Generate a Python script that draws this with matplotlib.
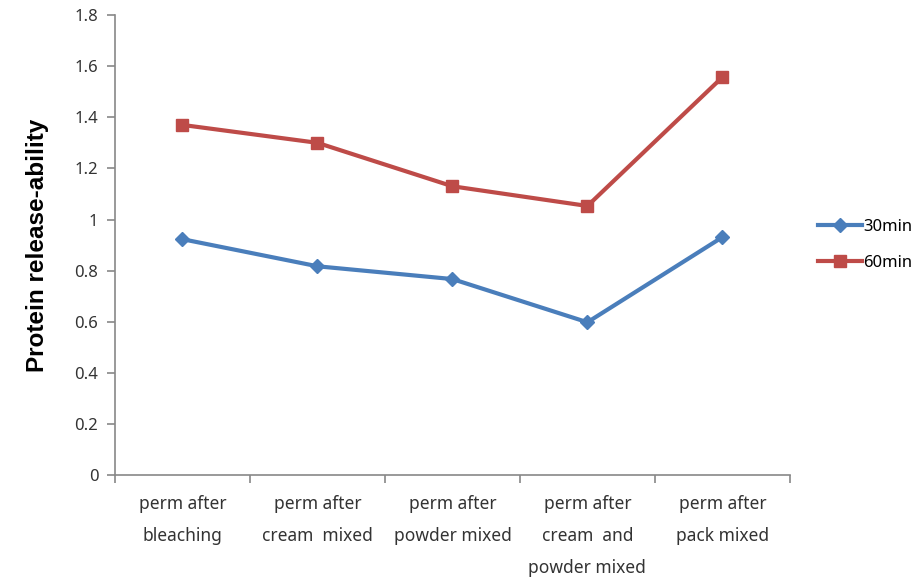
import numpy as np
import matplotlib.pyplot as plt

categories = ['perm after\nbleaching', 'perm after\ncream  mixed', 'perm after\npowder mixed',
              'perm after\ncream  and\npowder mixed', 'perm after\npack mixed']
vals_30 = [0.923, 0.817, 0.767, 0.598, 0.931]
vals_60 = [1.37, 1.30, 1.13, 1.053, 1.557]

plt.rcParams['font.family'] = ['Noto Sans', 'DejaVu Sans']

fig = plt.figure(figsize=(9.17, 5.78), dpi=100)
ax = fig.add_axes([0.1254, 0.178, 0.736, 0.796])

x = np.arange(len(categories))
ax.plot(x, vals_30, color='#4A7EBB', lw=3, marker='D', ms=7, label='30min')
ax.plot(x, vals_60, color='#BE4B48', lw=3, marker='s', ms=8, label='60min')

ax.set_xlim(-0.5, len(categories) - 0.5)
ax.set_ylim(0, 1.8)
ax.set_yticks(np.arange(0, 1.81, 0.2))
ax.set_yticklabels(['0', '0.2', '0.4', '0.6', '0.8', '1', '1.2', '1.4', '1.6', '1.8'])
ax.set_xticks(x)
ax.set_xticklabels(categories, fontsize=12.5, color='#333333', linespacing=2.0, va='top')
ax.set_xticks(np.arange(-0.5, len(categories), 1), minor=True)
ax.tick_params(axis='x', which='major', length=0, pad=14)
ax.tick_params(axis='x', which='minor', length=6, color='#888888', width=1.2)
ax.tick_params(axis='y', length=6, color='#888888', width=1.2, labelsize=12,
               labelcolor='#333333', pad=6)

for s in ['top', 'right']:
    ax.spines[s].set_visible(False)
for s in ['left', 'bottom']:
    ax.spines[s].set_color('#888888')
    ax.spines[s].set_linewidth(1.2)

ax.set_ylabel('Protein release-ability', fontsize=17.5, fontweight='bold',
              family='Liberation Sans', labelpad=18)

ax.legend(loc='center left', bbox_to_anchor=(1.02, 0.5), frameon=False, fontsize=12,
          handlelength=2.6, labelspacing=1.2, handletextpad=0.1)

fig.savefig('out.png', dpi=100)
